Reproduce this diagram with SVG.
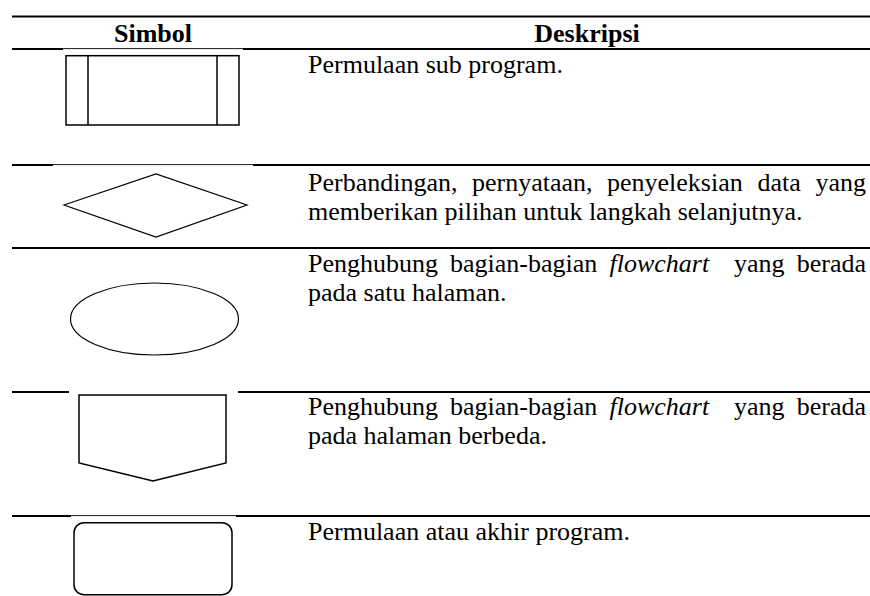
<svg xmlns="http://www.w3.org/2000/svg" width="870" height="596" viewBox="0 0 870 596">
<style>
.rule{stroke:#000;stroke-width:1.8;fill:none}
.thin{stroke:#000;stroke-width:0.9;fill:none}
.shape{stroke:#000;stroke-width:1.5;fill:#fff}
text{font-family:'Liberation Serif','Times New Roman',serif;font-size:26px;fill:#000}
.h{font-weight:bold}
.i{font-style:italic}
</style>
<rect width="870" height="596" fill="#fff"/>
<g id="rules">
<line class="rule" x1="12" y1="16.5" x2="870" y2="16.5"/>
<line class="rule" x1="12" y1="49" x2="63" y2="49"/>
<line class="thin" x1="63" y1="48.6" x2="243" y2="48.6"/>
<line class="rule" x1="243" y1="49" x2="870" y2="49"/>
<line class="rule" x1="12" y1="165" x2="53" y2="165"/>
<line class="thin" x1="53" y1="164.6" x2="253" y2="164.6"/>
<line class="rule" x1="253" y1="165" x2="870" y2="165"/>
<line class="rule" x1="12" y1="248" x2="870" y2="248"/>
<line class="rule" x1="12" y1="392" x2="69" y2="392"/>
<line class="rule" x1="238" y1="392" x2="870" y2="392"/>
<line class="rule" x1="12" y1="516" x2="71" y2="516"/>
<line class="thin" x1="71" y1="515.6" x2="236" y2="515.6"/>
<line class="rule" x1="236" y1="516" x2="870" y2="516"/>
</g>
<g id="header">
<text class="h" x="153" y="42" text-anchor="middle">Simbol</text>
<text class="h" x="587" y="42" text-anchor="middle">Deskripsi</text>
</g>
<g id="predefined-process">
<rect class="shape" x="66" y="55.7" width="173" height="69.3"/>
<line class="shape" x1="88" y1="55.7" x2="88" y2="125"/>
<line class="shape" x1="217" y1="55.7" x2="217" y2="125"/>
</g>
<g id="decision">
<polygon class="shape" style="stroke-width:1.2" points="64,205 156,174 247,205 156,237"/>
</g>
<g id="on-page-connector">
<ellipse class="shape" style="stroke-width:1.2" cx="154.5" cy="319" rx="84" ry="36"/>
</g>
<g id="off-page-connector">
<polygon class="shape" points="79,395 226,395 226,463 153,481 79,463"/>
</g>
<g id="terminator">
<rect class="shape" x="74" y="522.7" width="158" height="72" rx="10" ry="10"/>
</g>
<g id="descriptions">
<text x="308" y="73">Permulaan sub program.</text>
<text y="191"><tspan x="308">Perbandingan,</tspan><tspan x="472">pernyataan,</tspan><tspan x="607">penyeleksian</tspan><tspan x="757.5">data</tspan><tspan x="866" text-anchor="end">yang</tspan></text>
<text x="308" y="220">memberikan pilihan untuk langkah selanjutnya.</text>
<text y="272"><tspan x="308">Penghubung</tspan><tspan x="450">bagian-bagian</tspan><tspan x="609.5" class="i">flowchart</tspan><tspan x="734">yang</tspan><tspan x="866" text-anchor="end">berada</tspan></text>
<text x="308" y="301">pada satu halaman.</text>
<text y="415"><tspan x="308">Penghubung</tspan><tspan x="450">bagian-bagian</tspan><tspan x="609.5" class="i">flowchart</tspan><tspan x="734">yang</tspan><tspan x="866" text-anchor="end">berada</tspan></text>
<text x="308" y="444">pada halaman berbeda.</text>
<text x="308" y="540">Permulaan atau akhir program.</text>
</g>
</svg>
